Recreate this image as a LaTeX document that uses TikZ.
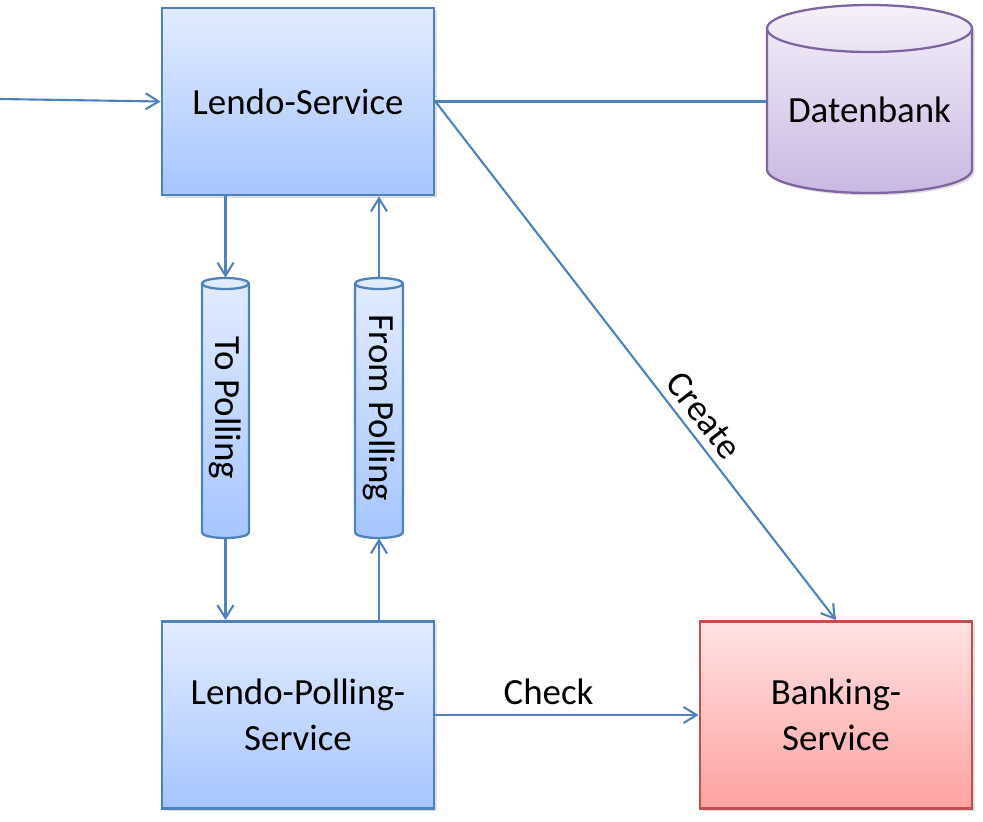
\documentclass[tikz,border=0pt]{standalone}
\usepackage{fontspec}
\setmainfont{Carlito}
\usepackage{graphicx}
\usetikzlibrary{arrows.meta,shadows}

\definecolor{lineblue}{RGB}{79,129,189}
\definecolor{bluetop}{RGB}{226,236,255}
\definecolor{bluebot}{RGB}{166,197,255}
\definecolor{linered}{RGB}{192,80,77}
\definecolor{redtop}{RGB}{255,226,226}
\definecolor{redbot}{RGB}{255,162,162}
\definecolor{lineviolet}{RGB}{128,100,162}
\definecolor{violettop}{RGB}{245,240,250}
\definecolor{violetbot}{RGB}{201,184,226}

% drum: x, y, half width, half height, cap radius, body style, edge style
\newcommand{\drum}[7]{%
  \begin{scope}[shift={(#1,#2)}]
    \path[#6, #7] (-#3,#4-#5) -- (-#3,-#4+#5) arc (180:360:#3 and #5)
      -- (#3,#4-#5) arc (0:180:#3 and #5) -- cycle;
    \draw[#7] (-#3,#4-#5) arc (180:360:#3 and #5);
  \end{scope}}

\def \w{5.44}
\def \h{3.74}

\begin{document}
\begin{tikzpicture}[
    font=\fontsize{21}{26.5}\selectfont,
    flow/.style={draw=lineblue, line width=1.2pt, -{Straight Barb[length=2.6mm,width=3.2mm]}},
    shade/.style={drop shadow={shadow xshift=0.05cm, shadow yshift=-0.05cm, opacity=0.25}},
    svc/.style={shade, draw=lineblue, line width=1.6pt, top color=bluetop, bottom color=bluebot,
      minimum width=\w cm, minimum height=\h cm, align=center},
    bank/.style={svc, draw=linered, top color=redtop, bottom color=redbot},
    tube/.style={top color=bluetop, bottom color=bluebot},
    tubeline/.style={draw=lineblue, line width=1.3pt},
    db/.style={shade, top color=violettop, bottom color=violetbot},
    dbline/.style={draw=lineviolet, line width=1.3pt},
    label/.style={inner sep=0pt, minimum width=0.94cm, minimum height=5.2cm}
  ]
    \useasboundingbox (0,0) rectangle (19.66,-16.42);

    \node[svc] (L) at (5.96, -2.03) {Lendo-Service};
    \node[svc] (P) at (5.96, -14.3) {Lendo-Polling-\\Service};
    \node[bank] (B) at (16.72, -14.3) {Banking-\\Service};

    \drum{17.39}{-1.98}{2.05}{1.88}{0.47}{db}{dbline}
    \node[minimum width=4.1cm, minimum height=3.76cm] (D) at (17.39, -2.2) {Datenbank};

    \drum{4.51}{-8.16}{0.47}{2.6}{0.11}{tube}{tubeline}
    \node[label] (TP) at (4.51, -8.16) {\rotatebox{-90}{To Polling}};
    \drum{7.58}{-8.16}{0.48}{2.6}{0.11}{tube}{tubeline}
    \node[label] (FP) at (7.58, -8.16) {\rotatebox{-90}{From Polling}};

    \coordinate (in) at (0, -1.98);
    \path[flow] (in) -- (L.west);
    \draw[lineblue, line width=1.2pt] (L.east) -- (L.east -| D.west);

    \path[flow] (TP.north |- L.south) -- (TP.north);
    \path[flow] (TP.south) -- (TP.south |- P.north);
    \path[flow] (FP.south |- P.north) -- (FP.south);
    \path[flow] (FP.north) -- (FP.north |- L.south);

    \path[flow] (L.east) -- (B.north) node[pos=0.63, sloped, above=1pt, text=black] {Create};
    \path[flow] (P.east) -- (B.west) node[pos=0.43, above=2pt, text=black] {Check};
  \end{tikzpicture}
\end{document}
